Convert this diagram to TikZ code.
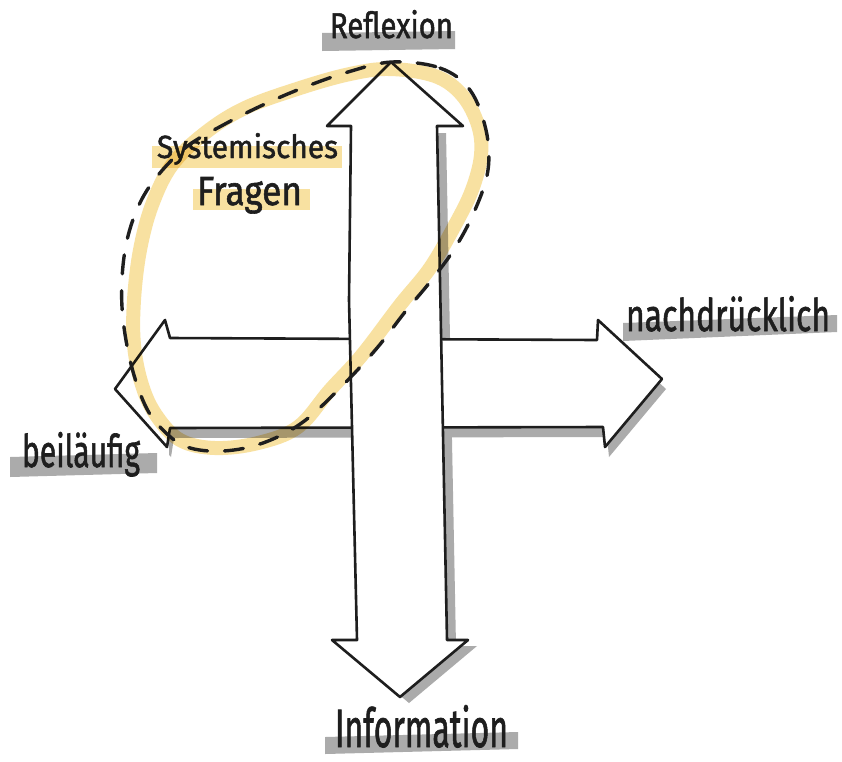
\documentclass[tikz,border=0pt]{standalone}
\usepackage{fontspec}
\usepackage{graphicx}
\newfontfamily\handfont[FakeBold=1.5]{Fira Sans}
\usetikzlibrary{calc}
\definecolor{ink}{HTML}{1E1E1E}
\definecolor{shade}{HTML}{ABABAB}
\definecolor{marker}{HTML}{F8E1A1}
% text scaled to a given width and height above the baseline
\newcommand{\fitlabel}[3]{\resizebox{#1}{#2}{\handfont #3}}
\begin{document}
\begin{tikzpicture}[x=1pt,y=-1pt,
  arrowbody/.style={fill=white,draw=ink,line width=2.6pt,line join=round},
  shadowfill/.style={fill=shade},
  grayband/.style={fill=shade},
  yellowband/.style={fill=marker},
  axislabel/.style={anchor=base west,inner sep=0pt,outer sep=0pt,text=ink},
  ring/.style={draw=marker,line width=14pt,blend mode=multiply},
  dashring/.style={draw=ink,line width=3.4pt,dash pattern=on 19pt off 17pt,line cap=round}]
\useasboundingbox (0,0) rectangle (842,761);
\fill[white] (0,0) rectangle (842,761);

% shadows of the two arrows
\begin{scope}
  \clip (0,133) rectangle (842,761);
  \fill[shadowfill,shift={(9,6)}]
    (391,62) -- (463,126) -- (437,126) -- (447,640) -- (468,640) -- (400,697)
    -- (332,640) -- (357,640) -- (349,300) -- (351,126) -- (327,126) -- cycle;
\end{scope}
\begin{scope}
  \clip (169,0) rectangle (842,761);
  \fill[shadowfill,shift={(4,10)}]
    (115,389) -- (165,320) -- (170,338) -- (597,340) -- (598,320) -- (662,379)
    -- (605,447) -- (603,427) -- (170,428) -- (167,447) -- cycle;
\end{scope}

% horizontal double arrow
\path[arrowbody]
  (115,389) coordinate (hl) -- (165,320) -- (170,338) -- (597,340) -- (598,320)
  -- (662,379) coordinate (hr) -- (605,447) -- (603,427) -- (170,428) -- (167,447) -- cycle;

% vertical double arrow
\path[arrowbody]
  (391,62) coordinate (vt) -- (463,126) -- (437,126) -- (447,640) -- (468,640)
  -- (400,697) coordinate (vb) -- (332,640) -- (357,640) -- (349,300) -- (351,126)
  -- (327,126) -- cycle;

% highlight bars under the labels
\fill[grayband] (322,33) -- (455,31) -- (455,49) -- (322,51) -- cycle;
\fill[grayband] (623,323) -- (837,315) -- (837,332) -- (623,341) -- cycle;
\fill[grayband] (10,457) -- (157,453) -- (157,473) -- (10,477) -- cycle;
\fill[grayband] (325,737) -- (518,732) -- (518,749) -- (325,754) -- cycle;
\fill[yellowband] (152,146) rectangle (342,168);
\fill[yellowband] (193,189) rectangle (310,210);

% labels
\node[axislabel] (reflexion) at (330,38) {\fitlabel{123pt}{28pt}{Reflexion}};
\node[axislabel] (nachdruecklich) at (626,331) {\fitlabel{204pt}{35pt}{nachdrücklich}};
\node[axislabel] (beilaeufig) at (22,467) {\fitlabel{118pt}{35pt}{beiläufig}};
\node[axislabel] (information) at (335,747) {\fitlabel{173pt}{42pt}{Information}};
\node[axislabel] (systemisches) at (157,158) {\fitlabel{181pt}{25pt}{Systemisches}};
\node[axislabel] (fragen) at (197,205) {\fitlabel{105pt}{28pt}{Fragen}};

% marker ring around the upper left quadrant
\draw[ring] plot[smooth cycle,tension=0.6] coordinates {
  (390,69) (435,76) (462,95) (478,125) (481,155) (472,190) (455,225)
  (430,268) (400,305) (362,355) (330,390) (298,427) (258,443) (215,448)
  (180,440) (156,415) (142,385) (134,345) (134,300) (140,250) (152,205)
  (172,165) (205,133) (245,108) (300,88) (350,74)};

% dashed outline of the same region
\draw[dashring] plot[smooth cycle,tension=0.6] coordinates {
  (392,62) (440,68) (470,90) (486,130) (488,170) (475,210) (455,248)
  (430,282) (405,312) (377,348) (343,385) (303,422) (263,443) (223,451)
  (187,447) (163,430) (145,405) (130,360) (122,307) (124,257) (134,217)
  (152,183) (185,148) (225,124) (265,104) (305,87) (348,72)};
\end{tikzpicture}
\end{document}
